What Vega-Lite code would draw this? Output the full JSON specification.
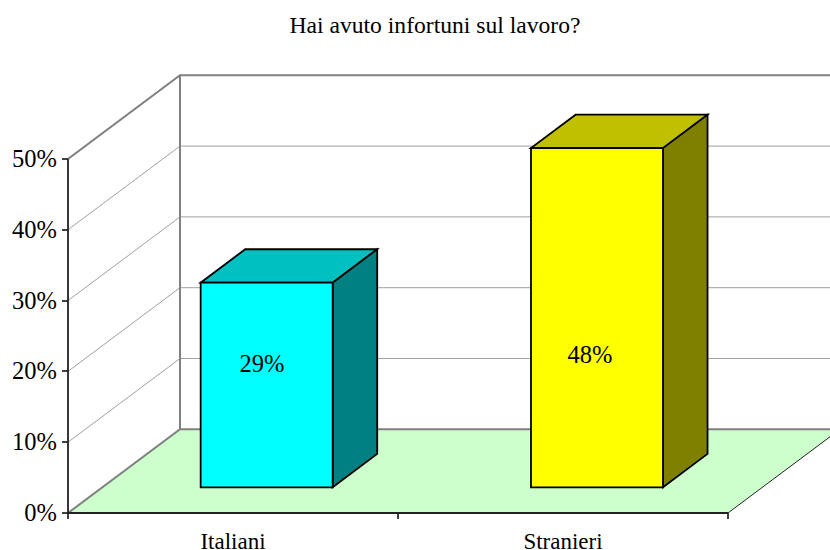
{
"$schema":"https://vega.github.io/schema/vega-lite/v6.json",
"width":762,"height":439,
"autosize":{"type":"none"},
"padding":{"left":68,"top":74,"right":0,"bottom":37},
"background":"white",
"title":{"text":"Hai avuto infortuni sul lavoro?","font":"Liberation Serif","fontSize":23.6,"fontWeight":"normal","color":"black","anchor":"middle","frame":"group","dx":-14,"offset":36},
"config":{"view":{"stroke":null},"axis":{"labelFont":"Liberation Serif","labelFontSize":23,"labelColor":"black","tickColor":"black","tickWidth":1.5,"tickSize":6,"translate":0,"domain":false,"grid":false,"title":null}},
"datasets":{
"floor":[{"x":0,"x2":2,"y":0},{"x":0.3394,"x2":2.3394,"y":11.82}],
"thin":[
{"s":"10","x":0,"y":10},{"s":"10","x":0.3394,"y":21.82},{"s":"10","x":2.35,"y":21.82},
{"s":"20","x":0,"y":20},{"s":"20","x":0.3394,"y":31.82},{"s":"20","x":2.35,"y":31.82},
{"s":"30","x":0,"y":30},{"s":"30","x":0.3394,"y":41.82},{"s":"30","x":2.35,"y":41.82},
{"s":"40","x":0,"y":40},{"s":"40","x":0.3394,"y":51.82},{"s":"40","x":2.35,"y":51.82}],
"frame":[
{"s":"50","x":0,"y":50},{"s":"50","x":0.3394,"y":61.82},{"s":"50","x":2.35,"y":61.82},
{"s":"0","x":0,"y":0},{"s":"0","x":0.3394,"y":11.82},{"s":"0","x":2.35,"y":11.82},
{"s":"v","x":0.3394,"y":11.82},{"s":"v","x":0.3394,"y":61.82}],
"edge":[{"s":"r","x":2,"y":0},{"s":"r","x":2.3394,"y":11.82}],
"base":[{"s":"b","x":0,"y":0},{"s":"b","x":2,"y":0},{"s":"a","x":0,"y":0},{"s":"a","x":0,"y":50}],
"tops":[
{"face":"Italiani cima","x":0.402,"x2":0.802,"y":32.53},{"face":"Italiani cima","x":0.537,"x2":0.937,"y":37.25},
{"face":"Stranieri cima","x":1.403,"x2":1.803,"y":51.53},{"face":"Stranieri cima","x":1.538,"x2":1.938,"y":56.25}],
"sides":[
{"face":"Italiani lato","x":0.802,"y":3.63,"y2":32.53},{"face":"Italiani lato","x":0.937,"y":8.35,"y2":37.25},
{"face":"Stranieri lato","x":1.803,"y":3.63,"y2":51.53},{"face":"Stranieri lato","x":1.938,"y":8.35,"y2":56.25}],
"fronts":[
{"face":"Italiani fronte","x":0.402,"x2":0.802,"y":3.63,"y2":32.53},
{"face":"Stranieri fronte","x":1.403,"x2":1.803,"y":3.63,"y2":51.53}],
"labels":[{"label":"29%","x":0.588,"y":20.85},{"label":"48%","x":1.582,"y":22.15}]
},
"resolve":{"axis":{"x":"independent"}},
"layer":[
{"data":{"name":"floor"},"mark":{"type":"area","orient":"horizontal","fill":"#CCFFCC","clip":true},
"encoding":{
"x":{"field":"x","type":"quantitative","scale":{"domain":[0,2.3091],"nice":false,"zero":false},"axis":{"orient":"bottom","values":[0,1,2],"labels":false}},
"x2":{"field":"x2"},
"y":{"field":"y","type":"quantitative","scale":{"domain":[0,62],"nice":false,"zero":false},"axis":{"values":[0,10,20,30,40,50],"labelExpr":"datum.value+'%'","labelPadding":5,"labelFontSize":24.5,"labelOffset":1}}}},
{"data":{"name":"thin"},"mark":{"type":"line","stroke":"#a0a0a0","strokeWidth":1,"clip":true},
"encoding":{
"x":{"field":"x","type":"quantitative","axis":{"orient":"bottom","values":[0.5,1.5],"labelExpr":"datum.value<1?'Italiani':'Stranieri'","ticks":false,"labelPadding":18,"labelBaseline":"top"}},
"y":{"field":"y","type":"quantitative"},"detail":{"field":"s"}}},
{"data":{"name":"frame"},"mark":{"type":"line","stroke":"#808080","strokeWidth":2,"clip":true},
"encoding":{"x":{"field":"x","type":"quantitative","axis":null},"y":{"field":"y","type":"quantitative"},"detail":{"field":"s"}}},
{"data":{"name":"edge"},"mark":{"type":"line","stroke":"#222222","strokeWidth":1,"clip":true},
"encoding":{"x":{"field":"x","type":"quantitative","axis":null},"y":{"field":"y","type":"quantitative"},"detail":{"field":"s"}}},
{"data":{"name":"base"},"mark":{"type":"line","stroke":"#222222","strokeWidth":1.8},
"encoding":{"x":{"field":"x","type":"quantitative","axis":null},"y":{"field":"y","type":"quantitative"},"detail":{"field":"s"}}},
{"data":{"name":"tops"},"mark":{"type":"area","orient":"horizontal","stroke":"black","strokeWidth":1.8},
"encoding":{"x":{"field":"x","type":"quantitative","axis":null},"x2":{"field":"x2"},"y":{"field":"y","type":"quantitative"},
"fill":{"field":"face","type":"nominal","legend":null,"scale":{"domain":["Italiani fronte","Italiani lato","Italiani cima","Stranieri fronte","Stranieri lato","Stranieri cima"],"range":["#00FFFF","#008080","#00C0C0","#FFFF00","#808000","#C0C000"]}}}},
{"data":{"name":"sides"},"mark":{"type":"area","orient":"vertical","stroke":"black","strokeWidth":1.8},
"encoding":{"x":{"field":"x","type":"quantitative","axis":null},"y":{"field":"y","type":"quantitative"},"y2":{"field":"y2"},
"fill":{"field":"face","type":"nominal","legend":null}}},
{"data":{"name":"fronts"},"mark":{"type":"rect","stroke":"black","strokeWidth":1.8},
"encoding":{"x":{"field":"x","type":"quantitative","axis":null},"x2":{"field":"x2"},"y":{"field":"y","type":"quantitative"},"y2":{"field":"y2"},
"fill":{"field":"face","type":"nominal","legend":null}}},
{"data":{"name":"labels"},"mark":{"type":"text","font":"Liberation Serif","fontSize":24.5,"color":"black"},
"encoding":{"x":{"field":"x","type":"quantitative","axis":null},"y":{"field":"y","type":"quantitative"},"text":{"field":"label"}}}
]
}
